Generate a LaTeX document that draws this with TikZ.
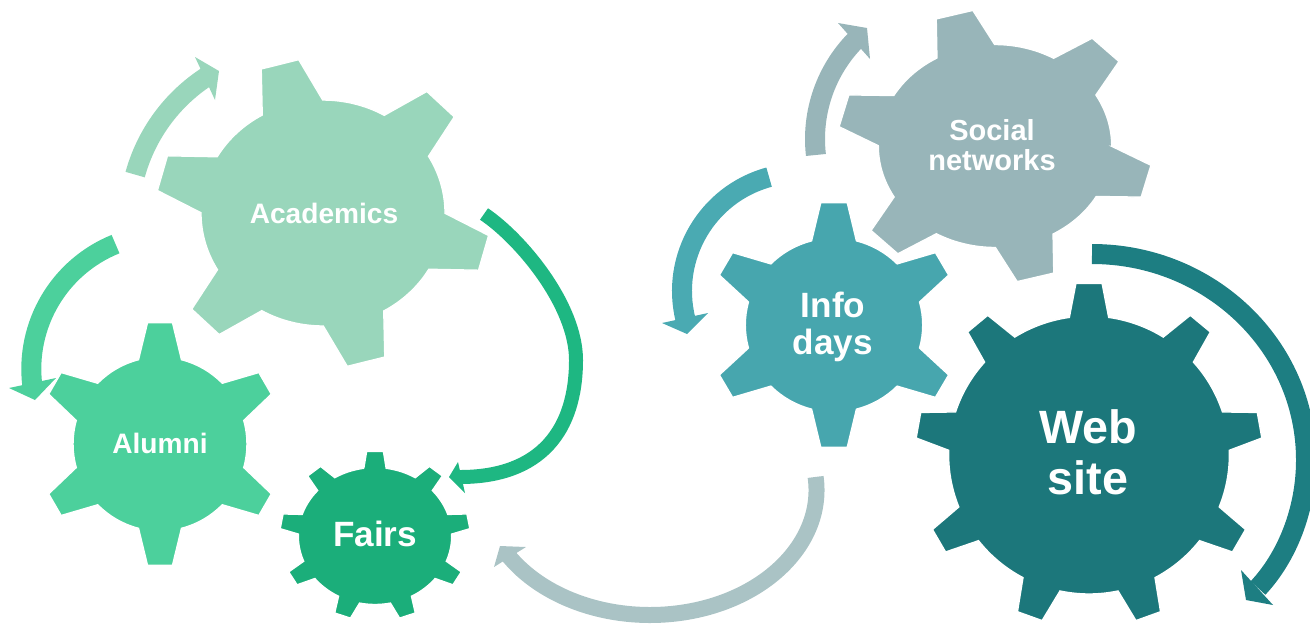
\documentclass[tikz,border=0pt]{standalone}
\usepackage{fontspec}
\setmainfont{Liberation Sans}
\definecolor{cacad}{HTML}{99D6BB}
\definecolor{calum}{HTML}{4CD09C}
\definecolor{cfair}{HTML}{1BAE7A}
\definecolor{carrf}{HTML}{1EB782}
\definecolor{cinfo}{HTML}{47A6AE}
\definecolor{carri}{HTML}{4AAAB2}
\definecolor{csoc}{HTML}{98B5B9}
\definecolor{cweb}{HTML}{1C777B}
\definecolor{carrw}{HTML}{1D7E82}
\definecolor{cgrey}{HTML}{AAC3C5}
% #1 centre, #2 body radius, #3 tip radius, #4 teeth, #5 first tooth angle,
% #6 base half width, #7 tip half width, #8 style, #9 xscale
\newcommand{\drawgear}[9]{%
  \pgfmathsetmacro\gb{asin(#6/#2)}%
  \pgfmathsetmacro\gt{asin(#7/#3)}%
  \pgfmathsetmacro\gs{360/#4}%
  \pgfmathtruncatemacro\gn{#4-1}%
  \begin{scope}[shift={#1}, xscale=#9]
    \path[#8] ({#5-\gb}:#2)
      \foreach \k in {0,...,\gn} {
        -- ({#5+\k*\gs-\gt}:#3) -- ({#5+\k*\gs+\gt}:#3) -- ({#5+\k*\gs+\gb}:#2)
        arc[start angle={#5+\k*\gs+\gb}, end angle={#5+(\k+1)*\gs-\gb}, radius=#2]
      } -- cycle;
  \end{scope}}
\tikzset{
  lbl/.style={text=white, align=center, inner sep=0pt},
  gearst/.style={fill=#1, draw=white, line width=0.8pt},
  shaftw/.style={draw=#1, line width=0.4cm, line cap=butt},
}
\begin{document}
\begin{tikzpicture}[x=0.02cm,y=-0.02cm]
\useasboundingbox (0,0) rectangle (1310,626);
\clip (0,0) rectangle (1310,626);

% ---- circular arrows ----
% A1 (light green)
\draw[shaftw=cacad] (300,220) ++(-164.6:171) arc[start angle=-164.6, end angle=-123, radius=171];
\fill[cacad] (195,57) -- (219,71) -- (215,100) -- cycle;
% A2 (alumni green)
\draw[shaftw=calum] (166,369) ++(-112:134.7) arc[start angle=-112, end angle=-187, radius=134.7];
\fill[calum] (9,388) -- (35,400) -- (56,378) -- cycle;
% A3 (fairs green)
\coordinate (a3s) at (484,214);
\coordinate (a3m) at (576,360);
\coordinate (a3e) at (460,477);
\draw[carrf, line width=0.28cm] (a3s) .. controls (521,239) and (576,305) .. (a3m)
  .. controls (576,430) and (541,477) .. (a3e);
\fill[carrf] (458,462) -- (449,477) -- (465,493) -- cycle;
% A4 (social grey)
\draw[shaftw=csoc] (956,139) ++(173.5:141) arc[start angle=173.5, end angle=225, radius=141];
\fill[csoc] (838,23) -- (867,28) -- (870,59) -- cycle;
% A5 (info teal)
\draw[shaftw=carri] (800,291) ++(254.8:118) arc[start angle=254.8, end angle=166, radius=118];
\fill[carri] (662,323) -- (687,334) -- (708,313) -- cycle;
% A6 (light grey)
\draw[cgrey, line width=0.32cm] (650,490) ++(-6:166.5 and 125) arc[start angle=-6, end angle=148.5, x radius=166.5, y radius=125];
\fill[cgrey] (494,567) -- (500,546) -- (526,547) -- cycle;
% A7 (web teal)
\coordinate (a7s) at (1092,254);
\coordinate (a7m) at (1306,460);
\coordinate (a7e) at (1258,588);
\draw[carrw, line width=0.4cm] (a7s) .. controls (1210,254) and (1306,346) .. (a7m)
  .. controls (1306,510) and (1287,557) .. (a7e);
\fill[carrw] (1241,570) -- (1246,600) -- (1273,605) -- cycle;

% ---- gears ----
\drawgear{(323,213)}{113}{155}{6}{15}{29}{18}{gearst=cacad}{1.08}
\drawgear{(160,444)}{87}{122}{6}{30}{21.5}{12.5}{gearst=calum}{1}
\drawgear{(375,536)}{68.5}{85}{9}{-90}{10}{7.5}{gearst=cfair}{1.12}
\drawgear{(834,325)}{87}{123}{6}{30}{22}{13}{gearst=cinfo}{1.02}
\drawgear{(995,146)}{101.5}{137}{6}{15}{26}{16.5}{gearst=csoc}{1.15}
\drawgear{(1089,455)}{139}{172}{9}{-90}{19.5}{13}{gearst=cweb}{1.01}

% ---- labels ----
\node[lbl, font=\bfseries\fontsize{16}{19}\selectfont] (tacad) at (324,213) {Academics};
\node[lbl, font=\bfseries\fontsize{16}{19}\selectfont] (talum) at (160,443) {Alumni};
\node[lbl, font=\bfseries\fontsize{20}{24}\selectfont] (tfair) at (375,534) {Fairs};
\node[lbl, font=\bfseries\fontsize{16.5}{17}\selectfont] (tsoc) at (992,145) {Social\\networks};
\node[lbl, font=\bfseries\fontsize{20}{21.5}\selectfont] (tinfo) at (833,327) {Info\\days};
\node[lbl, font=\bfseries\fontsize{26.6}{29}\selectfont] (tweb) at (1088,452) {Web\\site};
\end{tikzpicture}
\end{document}
